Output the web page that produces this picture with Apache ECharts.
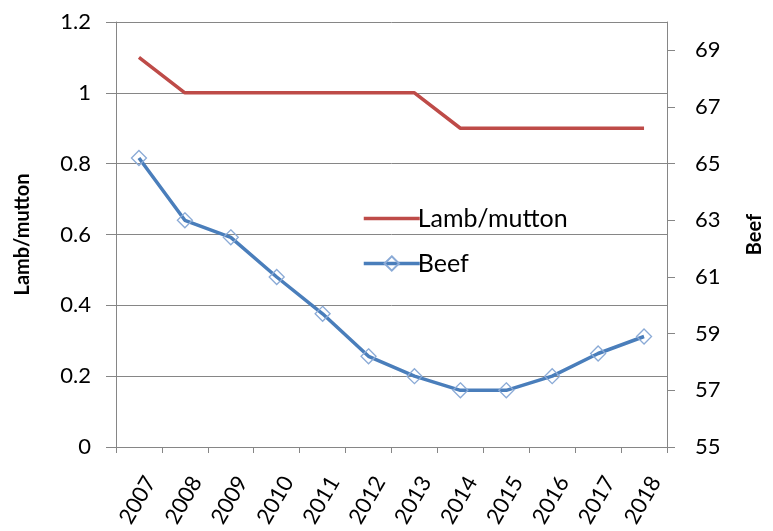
<!DOCTYPE html>
<html>
<head>
<meta charset="utf-8">
<script src="https://cdn.jsdelivr.net/npm/echarts@6/dist/echarts.min.js"></script>
<style>
  html, body { margin: 0; padding: 0; background: #fff; }
  #chart { width: 773px; height: 531px; }
</style>
</head>
<body>
<div id="chart"></div>
<script>
// Years on the category axis
const years = ['2007', '2008', '2009', '2010', '2011', '2012', '2013', '2014', '2015', '2016', '2017', '2018'];
// Lamb/mutton, left axis
const lambMutton = [1.1, 1.0, 1.0, 1.0, 1.0, 1.0, 1.0, 0.9, 0.9, 0.9, 0.9, 0.9];
// Beef, right axis
const beef = [65.2, 63.0, 62.4, 61.0, 59.7, 58.2, 57.5, 57.0, 57.0, 57.5, 58.3, 58.9];
// Right-axis tick values
const beefTicks = [55, 57, 59, 61, 63, 65, 67, 69];

const FONT = 'Lato, "Open Sans", sans-serif';
const GRID_GRAY = '#868686';
const LAMB_RED = '#BE4B48';
const BEEF_BLUE = '#4A7EBB';

const chart = echarts.init(document.getElementById('chart'), null, { renderer: 'canvas' });

chart.setOption({
  animation: false,
  backgroundColor: '#ffffff',
  textStyle: { fontFamily: FONT },
  grid: { left: 116, right: 99, top: 22, bottom: 84 },
  legend: {
    orient: 'vertical',
    left: 357,
    top: 200,
    itemWidth: 56,
    itemHeight: 18,
    itemGap: 18,
    lineStyle: { width: 3.5 },
    textStyle: { fontFamily: FONT, fontSize: 25, lineHeight: 27, color: '#000', padding: [0, 0, 0, -7] },
    data: [
      { name: 'Lamb/mutton', icon: 'path://M0,0H55V3.5H0Z' },
      { name: 'Beef' }
    ]
  },
  xAxis: {
    type: 'category',
    data: years,
    boundaryGap: true,
    axisLine: { lineStyle: { color: GRID_GRAY, width: 1 } },
    axisTick: { show: true, length: 6, lineStyle: { color: GRID_GRAY } },
    axisLabel: {
      rotate: 60,
      margin: 29,
      align: 'right',
      verticalAlign: 'top',
      padding: [0, -4, 0, 0],
      fontFamily: FONT,
      fontSize: 22,
      color: '#000',
      interval: 0
    },
    splitLine: { show: false }
  },
  yAxis: [
    {
      type: 'value',
      min: 0,
      max: 1.2,
      interval: 0.2,
      name: 'Lamb/mutton',
      nameLocation: 'middle',
      nameRotate: 90,
      nameGap: 83,
      nameTextStyle: { fontFamily: FONT, fontSize: 20, fontWeight: 'bold', color: '#000' },
      axisLine: { show: true, lineStyle: { color: GRID_GRAY, width: 1 } },
      axisTick: { show: true, length: 10, lineStyle: { color: GRID_GRAY } },
      axisLabel: {
        margin: 25,
        fontFamily: FONT,
        fontSize: 22,
        color: '#000',
        formatter: v => String(Math.round(v * 10) / 10)
      },
      splitLine: { show: true, lineStyle: { color: GRID_GRAY, width: 1 } }
    },
    {
      type: 'value',
      min: 55,
      max: 70,
      position: 'right',
      name: 'Beef',
      nameLocation: 'middle',
      nameRotate: 90,
      nameGap: 78,
      nameTextStyle: { fontFamily: FONT, fontSize: 20, fontWeight: 'bold', color: '#000' },
      axisLine: { show: true, lineStyle: { color: GRID_GRAY, width: 1 } },
      axisTick: { show: true, length: 8, customValues: beefTicks, lineStyle: { color: GRID_GRAY } },
      axisLabel: {
        margin: 28,
        fontFamily: FONT,
        fontSize: 22,
        color: '#000',
        customValues: beefTicks
      },
      splitLine: { show: false }
    }
  ],
  series: [
    {
      name: 'Lamb/mutton',
      type: 'line',
      yAxisIndex: 0,
      data: lambMutton,
      symbol: 'none',
      color: LAMB_RED,
      lineStyle: { color: LAMB_RED, width: 3.5 },
      z: 3
    },
    {
      name: 'Beef',
      type: 'line',
      yAxisIndex: 1,
      data: beef,
      symbol: 'diamond',
      symbolSize: 15,
      showAllSymbol: true,
      color: BEEF_BLUE,
      lineStyle: { color: BEEF_BLUE, width: 3.5 },
      itemStyle: { color: 'rgba(255,255,255,0)', borderColor: '#8AAAD6', borderWidth: 1.3 },
      z: 4
    }
  ]
});
</script>
</body>
</html>
